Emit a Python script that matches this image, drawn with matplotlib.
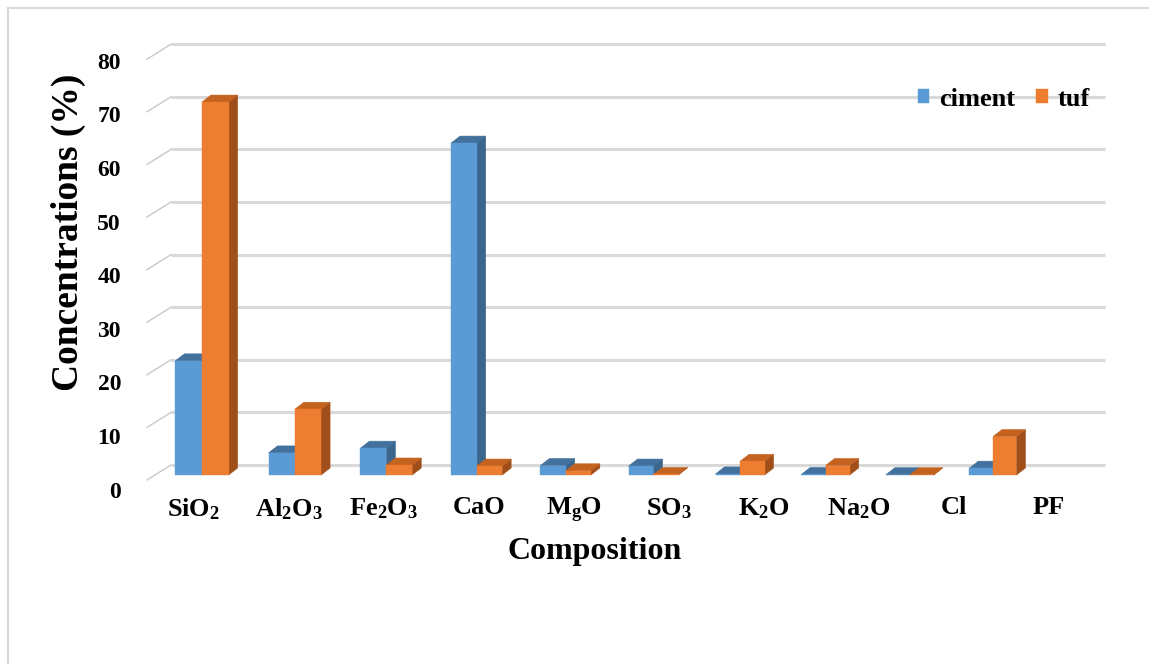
import matplotlib
matplotlib.use("Agg")
import matplotlib.pyplot as plt
from matplotlib.patches import Polygon, Rectangle

# ---------------- data ----------------
categories = [r"SiO$\mathregular{_2}$", r"Al$\mathregular{_2}$O$\mathregular{_3}$",
              r"Fe$\mathregular{_2}$O$\mathregular{_3}$", "CaO", r"M$\mathregular{_g}$O",
              r"SO$\mathregular{_3}$", r"K$\mathregular{_2}$O", r"Na$\mathregular{_2}$O",
              "Cl", "PF"]
ciment = [21.7, 4.2, 5.1, 63.1, 1.8, 1.7, 0.2, 0.1, 0.05, 1.3]
tuf = [70.9, 12.5, 1.9, 1.7, 0.8, 0.1, 2.6, 1.8, 0.05, 7.3]
series_names = ["ciment", "tuf"]
yticks = [0, 10, 20, 30, 40, 50, 60, 70, 80]

# ---------------- style ----------------
plt.rcParams['font.family'] = ['Liberation Serif', 'DejaVu Serif']
plt.rcParams['font.weight'] = 'bold'

BLUE, BLUE_TOP, BLUE_SIDE = "#5B9BD5", "#41719C", "#3A658D"
ORANGE, ORANGE_TOP, ORANGE_SIDE = "#ED7D31", "#C4621F", "#A14F1A"
GRID = "#D9D9D9"

W, H, DPI = 1149, 664, 100
fig = plt.figure(figsize=(W / DPI, H / DPI), dpi=DPI)
fig.patch.set_facecolor("white")

def fx(px):
    return px / W

def fy(py):
    return 1 - py / H

# chart-area border (light gray)
fig.add_artist(Rectangle((fx(7.5), fy(720)), 2.0, fy(7.5) - fy(720),
                         transform=fig.transFigure, fill=False,
                         edgecolor="#D9D9D9", lw=1.5))

# perspective along the category axis (Excel 3-D look)
C = 0.0071
def persp(x):
    return x / (1 + C * x)

def persp_inv(u):
    return u / (1 - C * u)

S_PX = 93.5      # px per perspective unit
X0_PX = 202      # px of category 0 (junction of the two bars)

def px_to_x(px):
    return persp_inv((px - X0_PX) / S_PX)

def shift_x(xd, dpx):
    return persp_inv(persp(xd) + dpx / S_PX)

# main plotting axes (pixel box)
ax_l, ax_r, ax_t, ax_b = 140, 1110, 30, 500
ax = fig.add_axes([fx(ax_l), fy(ax_b), (ax_r - ax_l) / W, (ax_b - ax_t) / H])
ax.set_xscale("function", functions=(persp, persp_inv))
ax.axis("off")
px_y = 5.26
base_px = 475
ax.set_xlim(px_to_x(ax_l), px_to_x(ax_r))
ax.set_ylim(-(ax_b - base_px) / px_y, (base_px - ax_t) / px_y)

# 3-D depth offsets
DX_PX = 9
dy = 7 / px_y
wall_dy = (base_px - 465) / px_y     # back-wall gridlines
front_dy = (base_px - 480) / px_y    # front edge of the side wall
grid_x0, grid_x1 = px_to_x(171), px_to_x(1105)
front_x = px_to_x(147)
label_x = px_to_x(121)

for k in yticks:
    ax.plot([grid_x0, grid_x1], [k + wall_dy, k + wall_dy], color=GRID, lw=2.2,
            zorder=1, solid_capstyle="butt")
    ax.plot([front_x, grid_x0], [k + front_dy, k + wall_dy], color="#C8C8C8",
            lw=1.0, zorder=1, clip_on=False)
    ly = (base_px - (492 - 5.36 * k)) / px_y
    ax.text(label_x, ly, str(k), ha="right", va="center",
            fontsize=17, fontweight="bold", clip_on=False)

bw = 0.285
x = list(range(len(categories)))

def draw_3d(xs, vals, top_c, side_c, z):
    for xi, v in zip(xs, vals):
        xl, xr = xi, xi + bw
        xl2, xr2 = shift_x(xl, DX_PX), shift_x(xr, DX_PX)
        top = Polygon([(xl, v), (xr, v), (xr2, v + dy), (xl2, v + dy)],
                      closed=True, facecolor=top_c, edgecolor=top_c, lw=0.4, zorder=z)
        side = Polygon([(xr, 0), (xr2, dy), (xr2, v + dy), (xr, v)],
                       closed=True, facecolor=side_c, edgecolor=side_c, lw=0.4, zorder=z)
        ax.add_patch(side)
        ax.add_patch(top)

xc = [xi - bw for xi in x]
xt = [xi for xi in x]
draw_3d(xc, ciment, BLUE_TOP, BLUE_SIDE, 2)
b1 = ax.bar(xc, ciment, width=bw, align="edge", color=BLUE, edgecolor=BLUE,
            lw=0.3, zorder=3, label=series_names[0])
draw_3d(xt, tuf, ORANGE_TOP, ORANGE_SIDE, 4)
b2 = ax.bar(xt, tuf, width=bw, align="edge", color=ORANGE, edgecolor=ORANGE,
            lw=0.3, zorder=5, label=series_names[1])

# category labels on the front edge (separate axes for perspective spacing)
lab_ax = fig.add_axes([fx(ax_l), fy(496), (ax_r - ax_l) / W, 0.0001])
lab_ax.set_xlim((ax_l - 194) / 95.0, (ax_r - 194) / 95.0)
lab_ax.set_xticks(x)
lab_ax.set_xticklabels(categories, fontsize=19, fontweight="bold")
lab_ax.tick_params(axis="x", length=0, pad=0)
lab_ax.set_yticks([])
for s in lab_ax.spines.values():
    s.set_visible(False)
lab_ax.patch.set_alpha(0)

# axis titles
fig.text(fx(595), fy(551), "Composition", ha="center", va="center",
         fontsize=23, fontweight="bold")
fig.text(fx(68), fy(232), "Concentrations (%)", ha="center", va="center",
         rotation=90, fontsize=27, fontweight="bold")

# legend
leg = ax.legend(handles=[b1, b2], labels=series_names, ncol=2, frameon=False,
                loc="center", bbox_to_anchor=(fx(1004), fy(99)),
                bbox_transform=fig.transFigure, fontsize=19,
                handlelength=0.42, handleheight=0.42, handletextpad=0.4,
                columnspacing=0.8, borderpad=0.1)
for t in leg.get_texts():
    t.set_fontweight("bold")

fig.savefig("out.png", dpi=DPI, facecolor="white")
